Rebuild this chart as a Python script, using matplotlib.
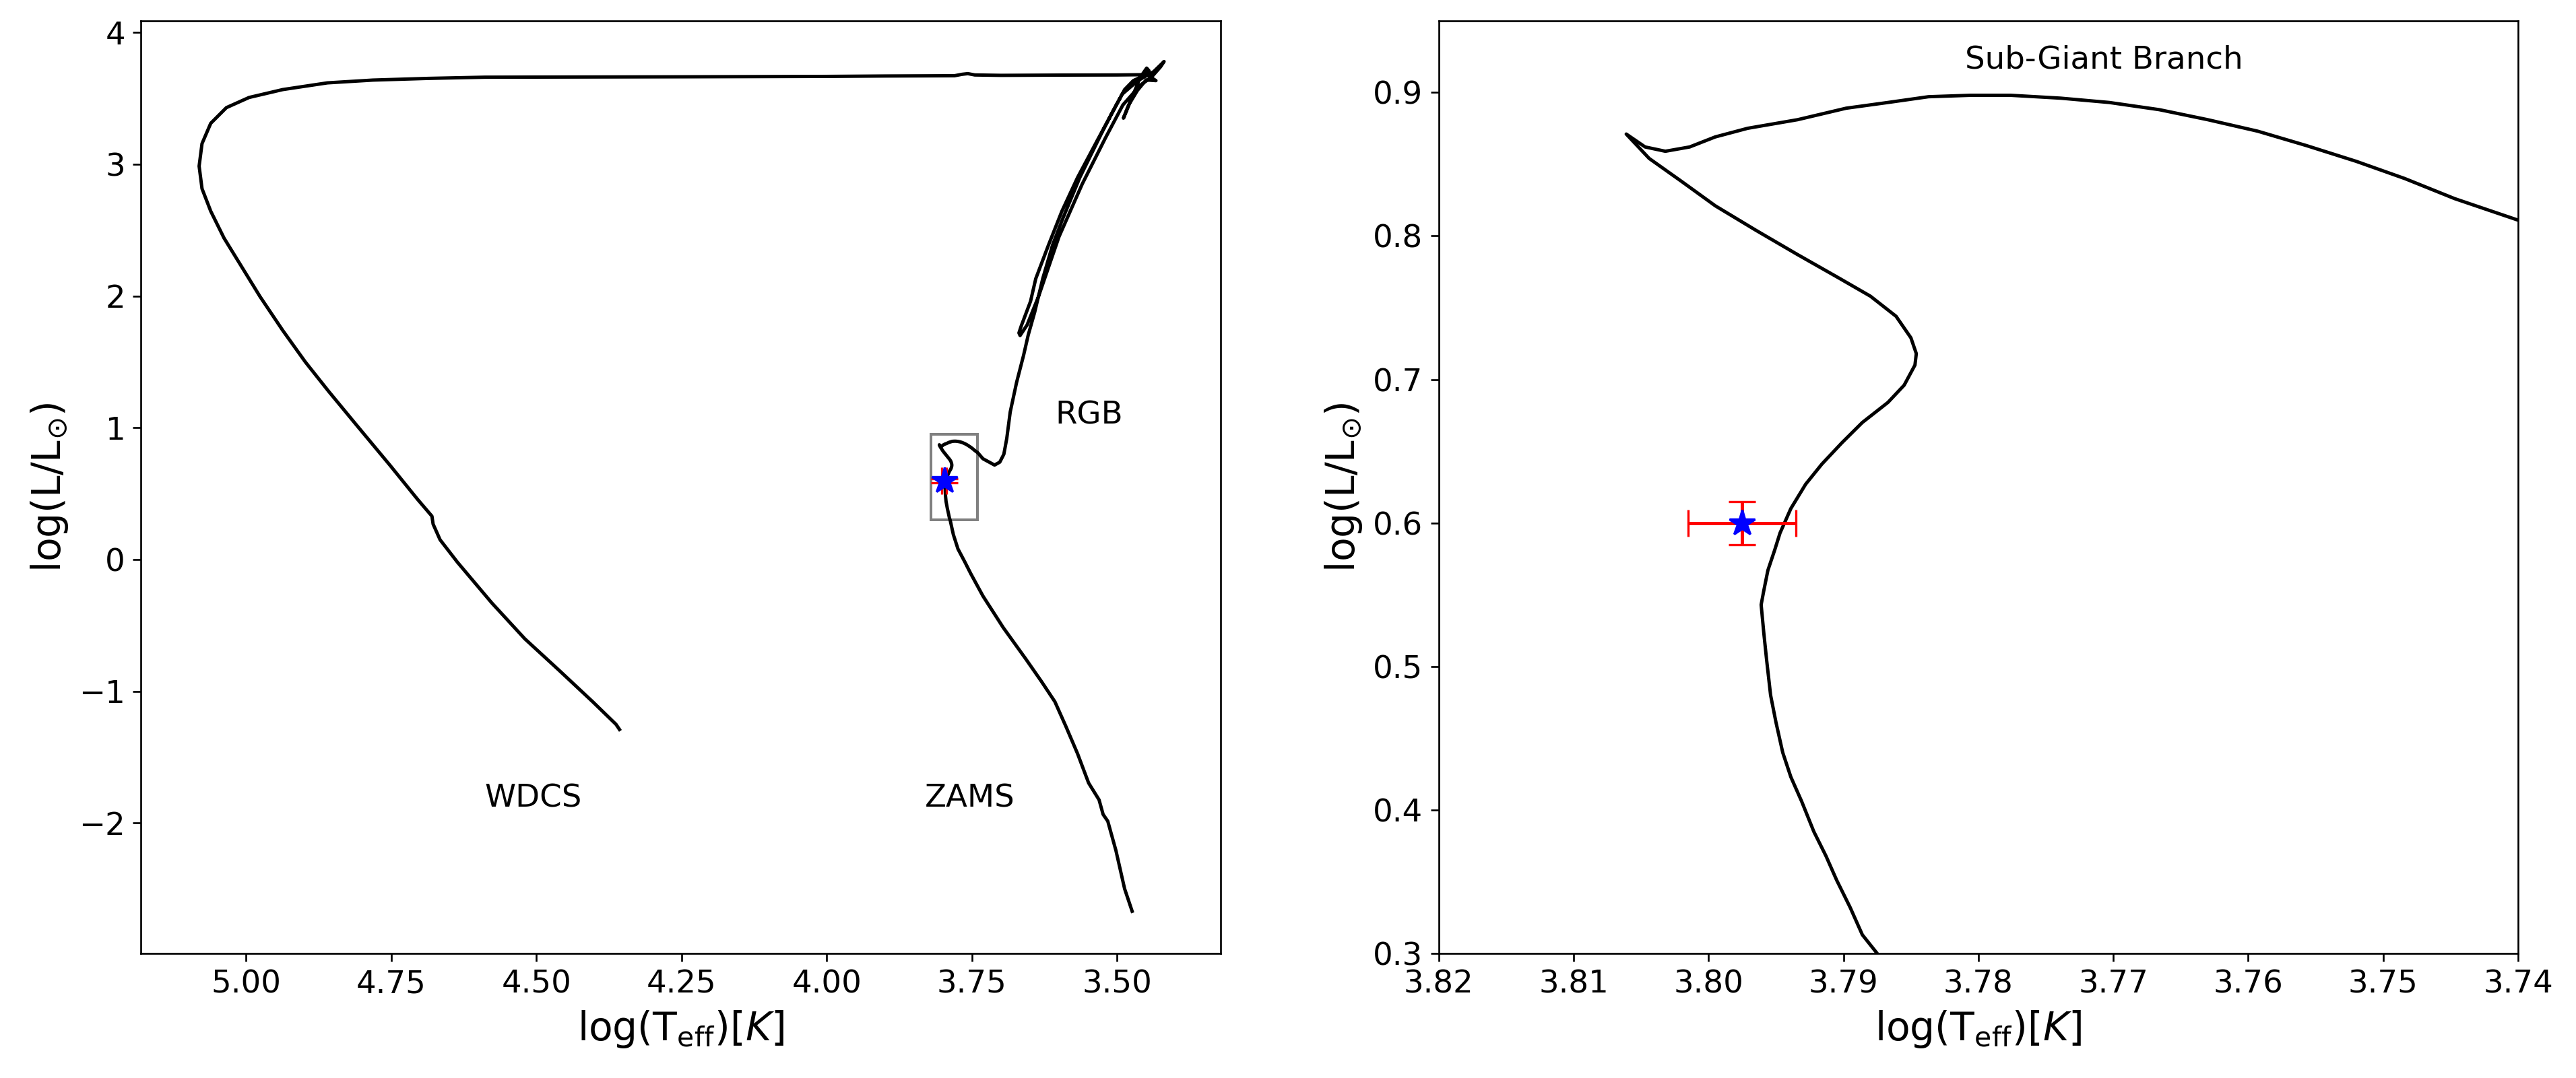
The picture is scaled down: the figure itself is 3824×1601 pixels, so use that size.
import matplotlib
matplotlib.use("Agg")
import matplotlib.pyplot as plt
from matplotlib.patches import Rectangle

# ---- evolutionary track (log Teff, log L) ----
ms_teff = [3.474, 3.487, 3.502, 3.516, 3.524, 3.531, 3.549, 3.568, 3.588, 3.607,
           3.630, 3.657, 3.696, 3.731, 3.752, 3.762, 3.774, 3.782, 3.786]
ms_lum = [-2.67, -2.499, -2.208, -1.986, -1.935, -1.824, -1.696, -1.474, -1.268, -1.080,
          -0.927, -0.756, -0.517, -0.277, -0.107, -0.02, 0.08, 0.19, 0.27]

tms_teff = [3.7875, 3.7886, 3.7895, 3.7905, 3.7913, 3.7922, 3.7931, 3.7939, 3.7945, 3.7950,
            3.7954, 3.7957, 3.7959, 3.7961, 3.7959, 3.7956, 3.7951, 3.7947, 3.7939, 3.7928,
            3.7916, 3.7901, 3.7886, 3.7867, 3.7855, 3.7847, 3.7846, 3.7850, 3.7861, 3.7880,
            3.7904, 3.7934, 3.7965, 3.7995, 3.8020, 3.8044, 3.8061]
tms_lum = [0.300, 0.313, 0.332, 0.351, 0.368, 0.385, 0.406, 0.423, 0.440, 0.461,
           0.480, 0.505, 0.523, 0.543, 0.553, 0.567, 0.581, 0.593, 0.610, 0.627,
           0.641, 0.656, 0.670, 0.684, 0.696, 0.710, 0.718, 0.729, 0.744, 0.758,
           0.771, 0.787, 0.804, 0.821, 0.838, 0.854, 0.871]

sgb_teff = [3.8047, 3.8032, 3.8014, 3.7995, 3.7971, 3.7934, 3.7898, 3.7867, 3.7837, 3.7806,
            3.7776, 3.7739, 3.7703, 3.7666, 3.7630, 3.7593, 3.7557, 3.7520, 3.7484, 3.7447,
            3.7400, 3.731, 3.711, 3.702, 3.695, 3.690, 3.684, 3.673, 3.661]
sgb_lum = [0.862, 0.859, 0.862, 0.869, 0.875, 0.881, 0.889, 0.893, 0.897, 0.898,
           0.898, 0.896, 0.893, 0.888, 0.881, 0.873, 0.863, 0.852, 0.840, 0.826,
           0.811, 0.765, 0.717, 0.739, 0.799, 0.918, 1.12, 1.345, 1.55]

rgb_teff = [3.653, 3.642, 3.628, 3.611, 3.593, 3.564, 3.526, 3.506, 3.491, 3.464, 3.437, 3.419]
rgb_lum = [1.704, 1.875, 2.132, 2.388, 2.593, 2.901, 3.242, 3.413, 3.533, 3.635, 3.703, 3.780]

flash_teff = [3.425, 3.441, 3.460, 3.490, 3.520, 3.560, 3.600, 3.635, 3.655, 3.667]
flash_lum = [3.74, 3.66, 3.60, 3.45, 3.20, 2.85, 2.45, 2.00, 1.78, 1.70]

agb_teff = [3.669, 3.665, 3.649, 3.640, 3.618, 3.595, 3.568, 3.533, 3.506, 3.487, 3.472,
            3.455, 3.445, 3.449, 3.460, 3.475, 3.489, 3.480, 3.465, 3.450, 3.433, 3.445, 3.456]
agb_lum = [1.72, 1.773, 1.96, 2.132, 2.388, 2.644, 2.90, 3.19, 3.41, 3.567, 3.635,
           3.67, 3.71, 3.73, 3.66, 3.50, 3.35, 3.45, 3.56, 3.64, 3.635, 3.67, 3.68]

pagb_teff = [3.50, 3.60, 3.70, 3.745, 3.757, 3.767, 3.78, 3.90, 4.00, 4.25, 4.589, 4.686,
             4.782, 4.860, 4.937, 4.995, 5.034, 5.061, 5.076, 5.081, 5.076, 5.061, 5.038,
             5.007, 4.976, 4.937, 4.898, 4.858, 4.810, 4.752, 4.705, 4.680, 4.678, 4.666,
             4.636, 4.577, 4.520, 4.461, 4.403, 4.363, 4.357]
pagb_lum = [3.678, 3.677, 3.675, 3.678, 3.688, 3.683, 3.672, 3.670, 3.667, 3.664, 3.661, 3.652,
            3.639, 3.618, 3.567, 3.507, 3.430, 3.311, 3.157, 2.986, 2.815, 2.644, 2.439,
            2.217, 1.995, 1.739, 1.499, 1.277, 1.021, 0.714, 0.458, 0.329, 0.269, 0.150,
            -0.021, -0.329, -0.602, -0.841, -1.080, -1.251, -1.29]

track_teff = ms_teff + tms_teff + sgb_teff + rgb_teff + flash_teff + agb_teff + pagb_teff
track_lum = ms_lum + tms_lum + sgb_lum + rgb_lum + flash_lum + agb_lum + pagb_lum

# ---- observed star ----
star_teff = [3.7975]
star_lum = [0.600]
star_teff_err = [0.004]
star_lum_err = [0.015]

# ---- labels ----
label_text = ["WDCS", "ZAMS", "RGB"]
label_x = [4.589, 3.831, 3.607]
label_y = [-1.88, -1.88, 1.03]

DPI = 240
fig = plt.figure(figsize=(3824 / DPI, 1601 / DPI), dpi=DPI)
ax1 = fig.add_axes([0.05476, 0.11555, 0.4190, 0.86527])
ax2 = fig.add_axes([0.55850, 0.11555, 0.4190, 0.86527])

for ax in (ax1, ax2):
    ax.plot(track_teff, track_lum, color="black", lw=1.5)
    ax.errorbar(star_teff, star_lum, xerr=star_teff_err, yerr=star_lum_err,
                fmt="*", color="blue", ecolor="red", ms=12, capsize=6, elinewidth=1.5)
    ax.set_xlabel(r"log(T$_{\mathrm{eff}}$)[$K$]", fontsize=17.5)
    ax.set_ylabel(r"log(L/L$_{\odot}$)", fontsize=17.5)
    ax.tick_params(labelsize=14)

ax1.add_patch(Rectangle((3.74, 0.30), 0.08, 0.65, fill=False, edgecolor="grey", lw=1.2))
for t, x, y in zip(label_text, label_x, label_y):
    ax1.text(x, y, t, fontsize=14, ha="left", va="baseline")
ax1.set_xlim(5.181, 3.322)
ax1.set_ylim(-2.99, 4.09)

ax2.text(3.781, 0.917, "Sub-Giant Branch", fontsize=14, ha="left", va="baseline")
ax2.set_xlim(3.82, 3.74)
ax2.set_ylim(0.30, 0.95)

fig.savefig("out.png", dpi=DPI)
